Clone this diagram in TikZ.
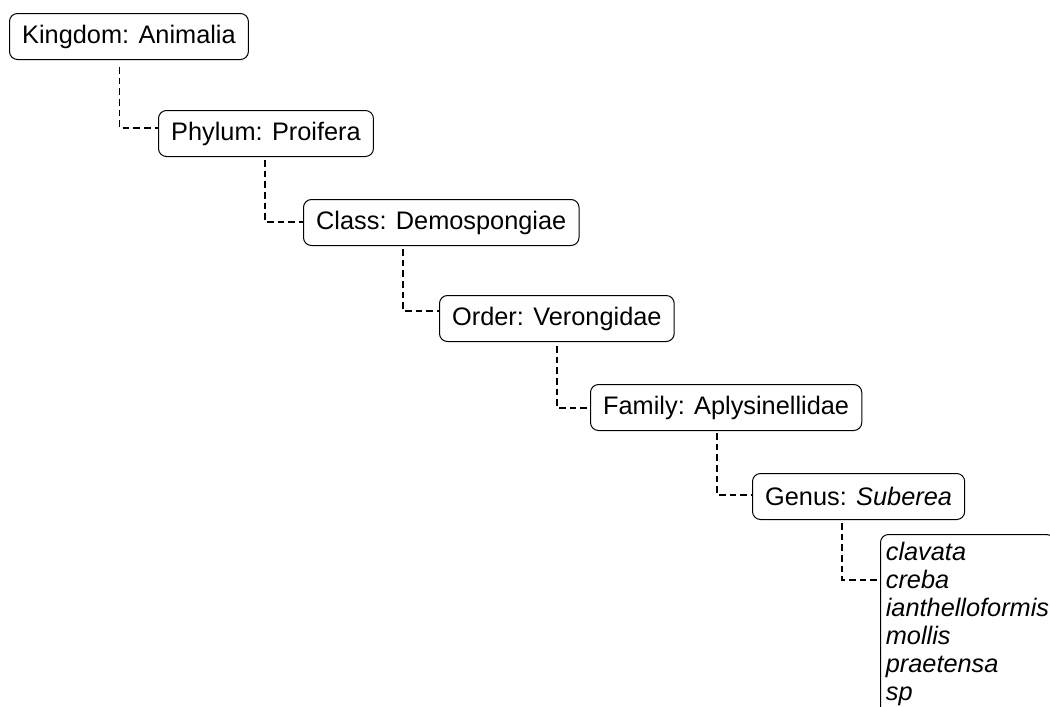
\documentclass[tikz,border=0pt]{standalone}
\usepackage{fontspec}
\setmainfont{Liberation Sans}
\usepackage{tikz}

\begin{document}
\begin{tikzpicture}[x=0.75pt, y=-0.75pt,
	every node/.style={font=\fontsize{19}{21}\selectfont},
	taxon/.style={draw, line width=0.75pt, rounded corners=6pt, anchor=north west, inner xsep=9.5pt, minimum height=34.5pt},
	link/.style={black, line width=0.85pt, dash pattern=on 5pt off 3pt}]
	\useasboundingbox (0,0) rectangle (1050,707);
	\clip (0,0) rectangle (1050,707);
	\node[taxon] (kingdom) at (9,13) {Kingdom: Animalia};
	\node[taxon] (phylum) at (158,110) {Phylum: Proifera};
	\node[taxon] (class) at (303,199) {Class: Demospongiae};
	\node[taxon] (order) at (439,295) {Order: Verongidae};
	\node[taxon] (family) at (590,384) {Family: Aplysinellidae};
	\node[taxon] (genus) at (752,473) {Genus: \textit{Suberea}};
	\node[taxon, inner xsep=4pt, inner ysep=6pt, align=left] (species) at (880,534) {\itshape clavata\\ \itshape creba\\ \itshape ianthelloformis\\ \itshape mollis\\ \itshape praetensa\\ \itshape sp};
	\draw[link] ([shift={(110.5,7)}]kingdom.south west) |- ([shift={(0,18)}]phylum.north west);
	\draw[link] ([shift={(107,3)}]phylum.south west) |- ([shift={(0,23)}]class.north west);
	\draw[link] ([shift={(100,3)}]class.south west) |- ([shift={(0,16)}]order.north west);
	\draw[link] ([shift={(118,4)}]order.south west) |- ([shift={(0,24)}]family.north west);
	\draw[link] ([shift={(127,2)}]family.south west) |- ([shift={(0,22)}]genus.north west);
	\draw[link] ([shift={(90,3)}]genus.south west) |- ([shift={(0,46)}]species.north west);
\end{tikzpicture}
\end{document}
